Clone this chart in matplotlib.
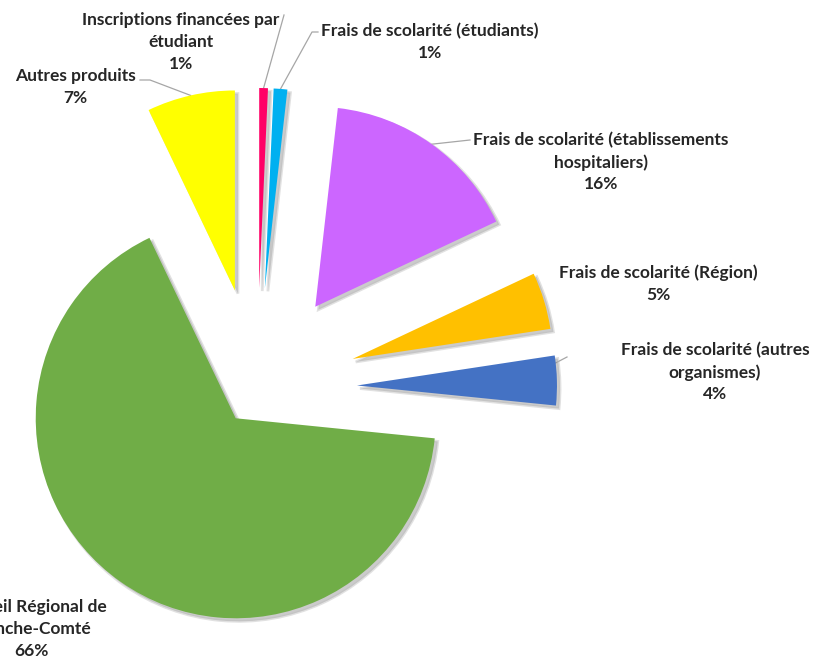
import numpy as np
import matplotlib.pyplot as plt

# parts du budget (en %)
labels = [
    "Inscriptions financées par\nétudiant",
    "Frais de scolarité (étudiants)",
    "Frais de scolarité (établissements\nhospitaliers)",
    "Frais de scolarité (Région)",
    "Frais de scolarité (autres\norganismes)",
    "Conseil Régional de\nFranche-Comté",
    "Autres produits",
]
values = [0.7, 1.1, 16.2, 4.6, 4.0, 66.3, 7.1]
colors = ["#FF0066", "#00B0F0", "#CC66FF", "#FFC000", "#4472C4", "#70AD47", "#FFFF00"]
explode = [0.5, 0.5, 0.5, 0.5, 0.5, 0.185, 0.5]

W, H = 828, 657
CX, CY, R = 257, 388, 200  # centre et rayon du camembert en pixels


def px(x, y):
    # pixels de l'image -> coordonnees du camembert
    return (x - CX) / R, (CY - y) / R


fig = plt.figure(figsize=(W / 100, H / 100), dpi=100)
ax = fig.add_axes([0, 0, 1, 1])

wedges, _ = ax.pie(values, colors=colors, explode=explode, startangle=90,
                   counterclock=False, radius=1,
                   wedgeprops=dict(linewidth=0),
                   shadow=dict(ox=0.011, oy=-0.011, facecolor="#8c8c8c",
                               edgecolor="#bdbdbd", linewidth=2, alpha=0.45))

ax.set_xlim(px(0, 0)[0], px(W, 0)[0])
ax.set_ylim(px(0, H)[1], px(0, 0)[1])
ax.set_aspect("auto")
ax.axis("off")

total = sum(values)
pct = [f"{v / total * 100:.0f}%" for v in values]

# position des etiquettes (centre du bloc, en pixels)
label_pos = [(181, 42), (430, 42), (601, 162), (658, 284), (715, 372), (31, 629), (75, 87)]
for lab, p, (x, y) in zip(labels, pct, label_pos):
    ax.text(*px(x, y), f"{lab}\n{p}", ha="center", va="center", multialignment="center",
            fontsize=12.5, fontweight="bold", family=["Lato", "DejaVu Sans"],
            color="#262626", linespacing=1.44)


def arc_point(i, frac=0.5):
    w = wedges[i]
    t = np.deg2rad(w.theta1 + frac * (w.theta2 - w.theta1))
    return w.center[0] + w.r * np.cos(t), w.center[1] + w.r * np.sin(t)


# lignes de rappel
leaders = {
    0: (0.5, [(284, 15)]),
    1: (0.5, [(312, 32), (318, 32)]),
    2: (0.5, [(470, 140)]),
    4: (0.85, [(567, 357)]),
    6: (0.5, [(150, 80), (140, 80)]),
}
for i, (frac, pts) in leaders.items():
    xs, ys = zip(arc_point(i, frac), *[px(*p) for p in pts])
    ax.plot(xs, ys, color="#A6A6A6", lw=0.9, zorder=0.5)

fig.savefig("out.png", dpi=100)
